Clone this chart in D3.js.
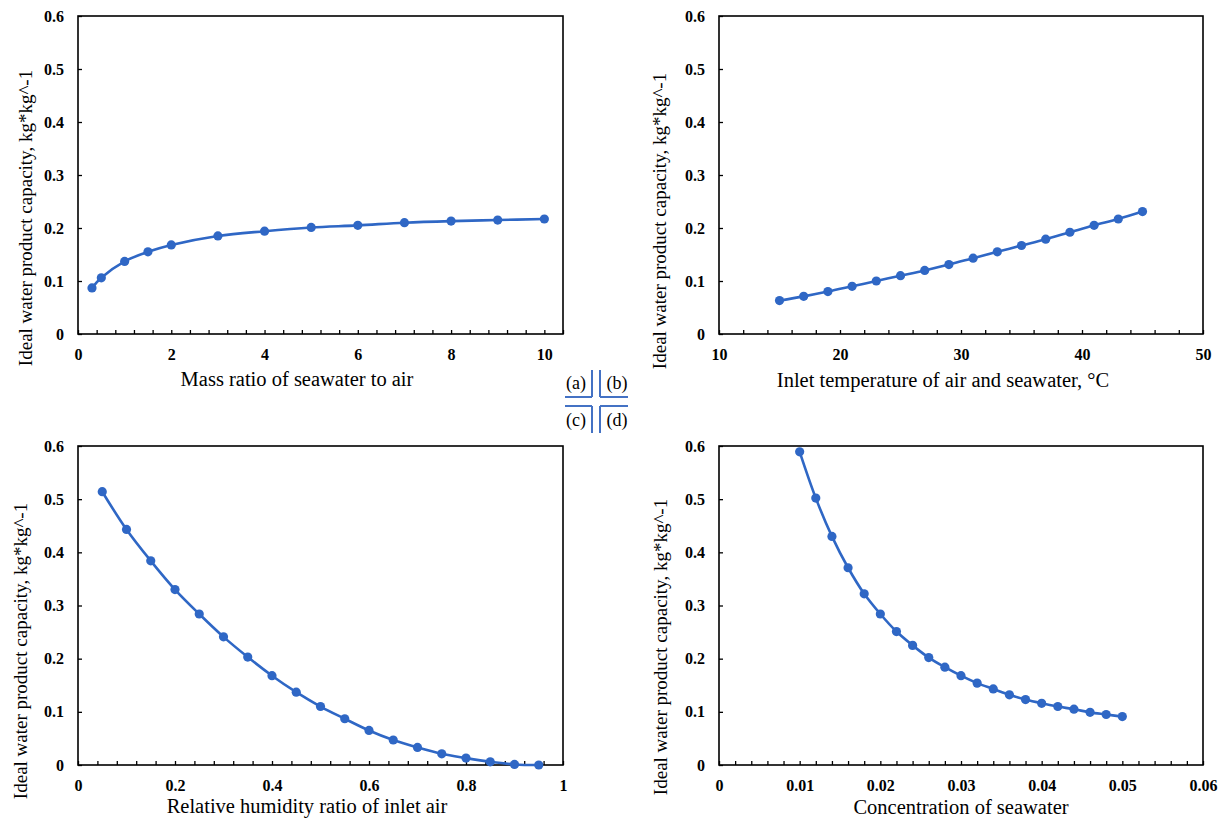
<!DOCTYPE html>
<html>
<head>
<meta charset="utf-8">
<script src="https://cdn.jsdelivr.net/npm/d3@7"></script>
<style>
  html, body { margin: 0; padding: 0; background: #fff; }
  svg text { font-family: "Liberation Serif", "Times New Roman", serif; }
</style>
</head>
<body>
<svg id="chart" width="1221" height="820"></svg>
<script>
// (a) mass ratio of seawater to air
const massRatio = [0.3, 0.5, 1, 1.5, 2, 3, 4, 5, 6, 7, 8, 9, 10];
const capacityA = [0.087, 0.106, 0.137, 0.155, 0.168, 0.185, 0.194, 0.201, 0.205, 0.210, 0.213, 0.215, 0.217];

// (b) inlet temperature of air and seawater, °C
const inletTemp = [15, 17, 19, 21, 23, 25, 27, 29, 31, 33, 35, 37, 39, 41, 43, 45];
const capacityB = [0.063, 0.071, 0.080, 0.090, 0.100, 0.110, 0.120, 0.131, 0.143, 0.155, 0.167, 0.179, 0.192, 0.205, 0.217, 0.231];

// (c) relative humidity ratio of inlet air
const humidity = [0.05, 0.10, 0.15, 0.20, 0.25, 0.30, 0.35, 0.40, 0.45, 0.50, 0.55, 0.60, 0.65, 0.70, 0.75, 0.80, 0.85, 0.90, 0.95];
const capacityC = [0.514, 0.443, 0.384, 0.330, 0.284, 0.241, 0.203, 0.168, 0.137, 0.110, 0.087, 0.065, 0.047, 0.033, 0.021, 0.013, 0.006, 0.001, 0.000];

// (d) concentration of seawater
const concentration = [0.010, 0.012, 0.014, 0.016, 0.018, 0.020, 0.022, 0.024, 0.026, 0.028, 0.030, 0.032, 0.034, 0.036, 0.038, 0.040, 0.042, 0.044, 0.046, 0.048, 0.050];
const capacityD = [0.589, 0.502, 0.430, 0.371, 0.322, 0.284, 0.251, 0.225, 0.202, 0.184, 0.168, 0.154, 0.143, 0.132, 0.123, 0.116, 0.110, 0.105, 0.099, 0.095, 0.091];

// shared y axis ticks
const yTicks = [0, 0.1, 0.2, 0.3, 0.4, 0.5, 0.6];
const yTitle = "Ideal water product capacity, kg*kg^-1";

// labelled x ticks per panel
const xTicksA = [0, 2, 4, 6, 8, 10];
const xTicksB = [10, 20, 30, 40, 50];
const xTicksC = [0, 0.2, 0.4, 0.6, 0.8, 1];
const xTicksD = [0, 0.01, 0.02, 0.03, 0.04, 0.05, 0.06];

const panels = [
  { x: massRatio, y: capacityA, domain: [0, 10.4], step: 0.4, labels: xTicksA, fmt: d => d3.format("d")(d),
    title: "Mass ratio of seawater to air", box: [78, 16, 563, 334], titlePos: [297, 379], yTitlePos: [25, 218] },
  { x: inletTemp, y: capacityB, domain: [10, 50], step: 2, labels: xTicksB, fmt: d => d3.format("d")(d),
    title: "Inlet temperature of air and seawater, °C", box: [719, 16, 1203, 334], titlePos: [943, 380], yTitlePos: [659, 221] },
  { x: humidity, y: capacityC, domain: [0, 1], step: 0.04, labels: xTicksC, fmt: d => (d === 0 || d === 1) ? String(d) : d3.format(".1f")(d),
    title: "Relative humidity ratio of inlet air", box: [78, 446, 563, 765], titlePos: [307, 806], yTitlePos: [20, 651] },
  { x: concentration, y: capacityD, domain: [0, 0.06], step: 0.002, labels: xTicksD, fmt: d => d === 0 ? "0" : d3.format(".2f")(d),
    title: "Concentration of seawater", box: [719, 446, 1203, 765], titlePos: [961, 807], yTitlePos: [660, 647] }
];

const svg = d3.select("#chart");
const lineColor = "#2F67C5";

panels.forEach(p => {
  const [x0, y0, x1, y1] = p.box;
  const xs = d3.scaleLinear().domain(p.domain).range([x0, x1]);
  const ys = d3.scaleLinear().domain([0, 0.6]).range([y1, y0]);
  const g = svg.append("g");

  // x axis: every minor step gets an inward tick, majors get labels
  const n = Math.round((p.domain[1] - p.domain[0]) / p.step);
  const xAll = d3.range(n + 1).map(i => +(p.domain[0] + i * p.step).toFixed(6));
  const isLabel = v => p.labels.some(l => Math.abs(l - v) < 1e-9);
  const xAxis = d3.axisBottom(xs).tickValues(xAll).tickSizeInner(-4).tickSizeOuter(0)
    .tickPadding(10).tickFormat(v => isLabel(v) ? p.fmt(v) : "");
  const gx = g.append("g").attr("transform", `translate(0,${y1})`).call(xAxis);
  gx.select(".domain").remove();
  gx.selectAll(".tick line").attr("stroke", "#000").attr("stroke-width", 1.3);
  gx.selectAll(".tick text").attr("font-size", 16).attr("font-weight", "bold").attr("fill", "#000")
    .attr("dy", "0.75em").attr("y", 14);

  // y axis
  const yAxis = d3.axisLeft(ys).tickValues(yTicks).tickSizeInner(-4).tickSizeOuter(0)
    .tickPadding(14).tickFormat(d => d === 0 ? "0" : d3.format(".1f")(d));
  const gy = g.append("g").attr("transform", `translate(${x0},0)`).call(yAxis);
  gy.select(".domain").remove();
  gy.selectAll(".tick line").attr("stroke", "#000").attr("stroke-width", 1.3);
  gy.selectAll(".tick text").attr("font-size", 16).attr("font-weight", "bold").attr("fill", "#000")
    .attr("x", -14);

  // frame
  g.append("rect").attr("x", x0).attr("y", y0).attr("width", x1 - x0).attr("height", y1 - y0)
    .attr("fill", "none").attr("stroke", "#000").attr("stroke-width", 1.6);

  // smoothed series line and markers
  const pts = p.x.map((v, i) => [v, p.y[i]]);
  const line = d3.line().x(d => xs(d[0])).y(d => ys(d[1])).curve(d3.curveCatmullRom.alpha(0.5));
  g.append("path").datum(pts).attr("d", line).attr("fill", "none")
    .attr("stroke", lineColor).attr("stroke-width", 2.6);
  g.selectAll("circle.pt").data(pts).join("circle").attr("class", "pt")
    .attr("cx", d => xs(d[0])).attr("cy", d => ys(d[1])).attr("r", 4.6).attr("fill", lineColor);

  // axis titles
  g.append("text").attr("x", p.titlePos[0]).attr("y", p.titlePos[1]).attr("text-anchor", "middle")
    .attr("dominant-baseline", "central").attr("font-size", 20.5).attr("fill", "#000").text(p.title);
  g.append("text").attr("transform", `translate(${p.yTitlePos[0]},${p.yTitlePos[1]}) rotate(-90)`)
    .attr("text-anchor", "middle").attr("dominant-baseline", "central").attr("font-size", 19)
    .attr("fill", "#000").text(yTitle);
});

// panel key in the centre
const key = svg.append("g");
const keyBlue = "#4472C4";
const kx1 = 592, kx2 = 600, ky1 = 397, ky2 = 406;
const segs = [
  [kx1, 370, kx1, ky1], [565, ky1, kx1, ky1],
  [kx2, 370, kx2, ky1], [kx2, ky1, 628, ky1],
  [565, ky2, kx1, ky2], [kx1, ky2, kx1, 433],
  [kx2, ky2, 628, ky2], [kx2, ky2, kx2, 433]
];
key.selectAll("line").data(segs).join("line")
  .attr("x1", d => d[0]).attr("y1", d => d[1]).attr("x2", d => d[2]).attr("y2", d => d[3])
  .attr("stroke", keyBlue).attr("stroke-width", 2);
const keyLabels = [["(a)", 576, 383], ["(b)", 617, 383], ["(c)", 576, 420], ["(d)", 617, 420]];
key.selectAll("text").data(keyLabels).join("text")
  .attr("x", d => d[1]).attr("y", d => d[2]).attr("text-anchor", "middle").attr("dominant-baseline", "central")
  .attr("font-size", 18).attr("fill", "#000").text(d => d[0]);
</script>
</body>
</html>
